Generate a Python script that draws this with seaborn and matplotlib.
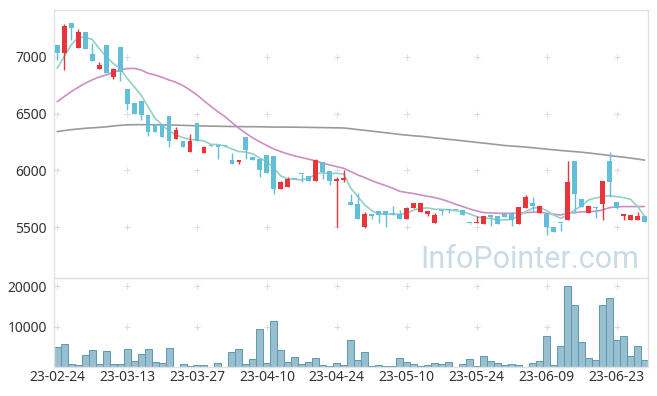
import numpy as np
import pandas as pd
import matplotlib
matplotlib.use('Agg')
import matplotlib.pyplot as plt
import seaborn as sns

# daily candles (index = trading day)
opens = [7100, 7030, 7300, 7075, 7215, 7020, 6895, 7100, 6825, 7085,
         6715, 6590, 6610, 6485, 6405, 6405, 6480, 6275, 6260, 6165,
         6415, 6150, 6215, 6215, 6215, 6090, 6075, 6295, 6120, 6100,
         6135, 6125, 5840, 5850, 5925, 5970, 5950, 5910, 6070, 5995,
         5910, 5915, 5720, 5705, 5500, 5615, 5645, 5645, 5625, 5615,
         5575, 5665, 5630, 5620, 5540, 5650, 5652, 5652, 5650, 5537,
         5535, 5525, 5610, 5600, 5614, 5625, 5525, 5665, 5715, 5625,
         5620, 5500, 5540, 5560, 6080, 5745, 5625, 5675, 5705, 6080,
         5725, 5600, 5565, 5560, 5600]
highs = [7100, 7290, 7300, 7240, 7215, 7120, 6950, 7100, 6900, 7085,
         6715, 6590, 6610, 6485, 6405, 6405, 6480, 6385, 6260, 6320,
         6415, 6215, 6215, 6215, 6215, 6150, 6095, 6295, 6120, 6100,
         6135, 6125, 5905, 5945, 5925, 5970, 5950, 6100, 6070, 5995,
         5945, 6000, 5790, 5805, 5630, 5615, 5645, 5645, 5687, 5650,
         5680, 5715, 5715, 5645, 5623, 5650, 5652, 5652, 5650, 5537,
         5600, 5600, 5610, 5600, 5614, 5635, 5675, 5785, 5765, 5685,
         5620, 5500, 5540, 6080, 6080, 5745, 5685, 5675, 5910, 6165,
         5725, 5615, 5605, 5630, 5600]
lows = [6970, 6880, 7150, 7075, 7065, 6965, 6895, 6855, 6805, 6790,
        6535, 6500, 6440, 6305, 6340, 6290, 6210, 6275, 6210, 6165,
        6255, 6150, 6210, 6100, 6210, 6060, 6060, 6100, 6090, 5940,
        5980, 5790, 5840, 5850, 5920, 5900, 5910, 5910, 5920, 5870,
        5505, 5900, 5700, 5575, 5495, 5570, 5540, 5505, 5608, 5575,
        5575, 5665, 5630, 5600, 5540, 5608, 5623, 5648, 5610, 5533,
        5535, 5525, 5510, 5525, 5591, 5510, 5525, 5665, 5635, 5625,
        5430, 5455, 5470, 5560, 5625, 5680, 5625, 5582, 5560, 5770,
        5660, 5560, 5565, 5560, 5550]
closes = [7035, 7270, 7250, 7215, 7070, 6965, 6925, 6860, 6890, 6865,
          6585, 6500, 6485, 6340, 6340, 6290, 6260, 6355, 6210, 6260,
          6255, 6205, 6212, 6210, 6212, 6060, 6090, 6180, 6090, 6000,
          5980, 5840, 5900, 5920, 5922, 5965, 5910, 6090, 5985, 5905,
          5920, 5935, 5700, 5575, 5615, 5600, 5605, 5605, 5620, 5575,
          5670, 5715, 5715, 5645, 5610, 5645, 5648, 5650, 5610, 5535,
          5550, 5600, 5590, 5525, 5591, 5560, 5675, 5765, 5690, 5685,
          5500, 5455, 5535, 5900, 5790, 5680, 5685, 5670, 5910, 5900,
          5670, 5615, 5605, 5600, 5550]
volume = [5060, 5630, 730, 490, 2940, 4160, 730, 3920, 730, 730,
          4410, 1470, 3180, 4410, 1220, 980, 4650, 60, 730, 245,
          490, 490, 100, 980, 100, 3670, 4410, 730, 1960, 9300,
          980, 11260, 4160, 1220, 2450, 730, 1220, 2200, 490, 245,
          980, 490, 6610, 1710, 3670, 160, 490, 245, 245, 2200,
          1220, 730, 245, 490, 980, 730, 1220, 60, 730, 1960,
          245, 2690, 1470, 980, 490, 730, 490, 60, 980, 1470,
          7590, 490, 5140, 19900, 15420, 6120, 2200, 1710, 15420, 17140,
          6610, 7590, 2690, 5140, 1710]

# moving averages
ma5 = [6897, 7000, 7103, 7170, 7170, 7152, 7073, 7000, 6941, 6897,
       6810, 6736, 6663, 6560, 6458, 6400, 6347, 6311, 6288, 6273,
       6267, 6259, 6229, 6227, 6215, 6188, 6165, 6162, 6144, 6106,
       6077, 6018, 5951, 5925, 5922, 5916, 5931, 5969, 5980, 5974,
       5974, 5969, 5843, 5769, 5696, 5646, 5617, 5614, 5614, 5614,
       5623, 5652, 5667, 5670, 5658, 5658, 5652, 5646, 5638, 5617,
       5594, 5579, 5579, 5564, 5564, 5570, 5600, 5638, 5667, 5676,
       5646, 5608, 5579, 5608, 5652, 5687, 5740, 5758, 5769, 5778,
       5769, 5761, 5746, 5682, 5600]
ma20 = [6604, 6648, 6692, 6730, 6766, 6795, 6821, 6839, 6862, 6883,
        6895, 6897, 6883, 6854, 6839, 6818, 6795, 6774, 6745, 6707,
        6663, 6612, 6562, 6515, 6473, 6420, 6370, 6326, 6285, 6250,
        6218, 6188, 6165, 6144, 6127, 6112, 6098, 6083, 6062, 6048,
        6033, 6018, 5989, 5960, 5936, 5910, 5887, 5866, 5843, 5816,
        5805, 5796, 5784, 5772, 5761, 5746, 5725, 5702, 5682, 5661,
        5643, 5629, 5626, 5623, 5623, 5623, 5623, 5629, 5632, 5635,
        5623, 5614, 5608, 5623, 5629, 5635, 5638, 5640, 5652, 5673,
        5679, 5682, 5682, 5682, 5682]
ma60 = [6341, 6350, 6358, 6364, 6370, 6374, 6378, 6383, 6390, 6396,
        6400, 6402, 6402, 6402, 6401, 6400, 6399, 6398, 6396, 6394,
        6392, 6390, 6389, 6388, 6387, 6386, 6385, 6384, 6384, 6383,
        6382, 6381, 6381, 6380, 6380, 6379, 6378, 6377, 6376, 6375,
        6374, 6373, 6366, 6359, 6352, 6345, 6338, 6331, 6324, 6316,
        6310, 6304, 6300, 6293, 6286, 6280, 6273, 6267, 6260, 6253,
        6246, 6240, 6233, 6226, 6219, 6214, 6210, 6205, 6199, 6193,
        6187, 6181, 6175, 6170, 6165, 6160, 6153, 6146, 6139, 6131,
        6123, 6116, 6108, 6100, 6090]

tick_pos = [0, 10, 20, 30, 40, 50, 60, 70, 80]
tick_labels = ['23-02-24', '23-03-13', '23-03-27', '23-04-10', '23-04-24',
               '23-05-10', '23-05-24', '23-06-09', '23-06-23']
price_ticks = [5500, 6000, 6500, 7000]
vol_ticks = [10000, 20000]

sns.set_style('white')
plt.rcParams['font.family'] = ['Noto Sans', 'DejaVu Sans']

df = pd.DataFrame({'open': opens, 'high': highs, 'low': lows, 'close': closes,
                   'volume': volume, 'ma5': ma5, 'ma20': ma20, 'ma60': ma60})
df['x'] = np.arange(len(df))

RED = '#e8353c'
BLUE = '#62bfd7'
SPINE = '#e2e2e2'

fig = plt.figure(figsize=(6.57, 3.96), dpi=100)
ax = fig.add_axes([54 / 657, 1 - 278 / 396, 594 / 657, 268 / 396])
axv = fig.add_axes([54 / 657, 1 - 367 / 396, 594 / 657, 89 / 396], sharex=ax)

# moving averages
sns.lineplot(data=df, x='x', y='ma60', ax=ax, color='#9a9a9a', lw=1.2, zorder=2)
sns.lineplot(data=df, x='x', y='ma20', ax=ax, color='#cc8ec4', lw=1.2, zorder=2)
sns.lineplot(data=df, x='x', y='ma5', ax=ax, color='#93d0c5', lw=1.2, zorder=2)

# candles
up = df['close'] >= df['open']
colors = np.where(up, RED, BLUE)
body_lo = df[['open', 'close']].min(axis=1)
body_h = (df['close'] - df['open']).abs().clip(lower=9)
ax.vlines(df['x'], df['low'], df['high'], colors=colors, lw=1, zorder=3)
ax.bar(df['x'], body_h, bottom=body_lo, width=0.7, color=colors, lw=0, zorder=4)

# volume
axv.bar(df['x'], df['volume'], width=1.0, color='#97bfcf', edgecolor='#5f98ae', lw=0.7)

for a, yt in ((ax, price_ticks), (axv, vol_ticks)):
    for s in a.spines.values():
        s.set_color(SPINE)
        s.set_linewidth(1)
    a.set_yticks(yt)
    a.tick_params(length=0, labelsize=10, colors='#333333', pad=5)
    gx, gy = np.meshgrid(tick_pos, yt)
    a.scatter(gx.ravel(), gy.ravel(), marker='+', s=14, color='#dddddd', lw=0.8, zorder=1)
    a.set_xlabel('')
    a.set_ylabel('')

ax.set_xlim(-0.45, 84.5)
ax.set_ylim(5054, 7410)
axv.set_ylim(0, 22000)
axv.set_xticks(tick_pos)
axv.set_xticklabels(tick_labels)
axv.tick_params(axis='x', pad=2)
ax.tick_params(axis='x', labelbottom=False)

ax.text(0.985, 0.038, 'InfoPointer.com', transform=ax.transAxes, ha='right', va='baseline',
        fontsize=22, family='Roboto', color='#c9dbe6', zorder=0)

fig.savefig('out.png', dpi=100)
